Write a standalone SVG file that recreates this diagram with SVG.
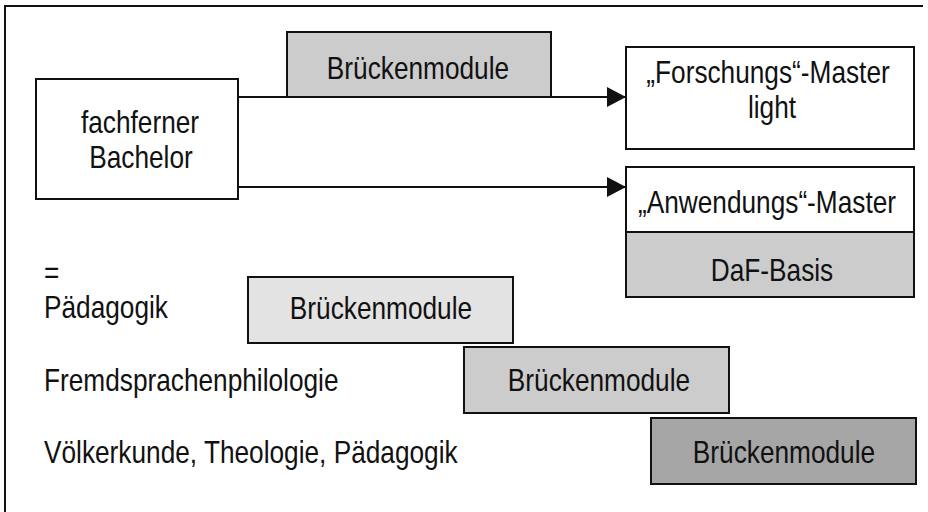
<svg xmlns="http://www.w3.org/2000/svg" width="928" height="512" viewBox="0 0 928 512">
  <style>
    .box { stroke: #111; stroke-width: 2; }
    .t { font-family: "Liberation Sans", Arial, sans-serif; font-size: 32px; fill: #111; }
    .c { text-anchor: middle; }
    .edge { stroke: #111; stroke-width: 2; fill: none; }
  </style>
  <defs>
    <marker id="arrow" markerUnits="userSpaceOnUse" markerWidth="20" markerHeight="22" refX="19" refY="10" orient="auto">
      <path d="M0,0 L19,10 L0,20 Z" fill="#111"/>
    </marker>
  </defs>

  <rect width="928" height="512" fill="#fff"/>

  <!-- outer frame (right and bottom edges fall outside the page) -->
  <path d="M5,512 V6 H923" fill="none" stroke="#111" stroke-width="2"/>

  <!-- connectors -->
  <g id="connectors">
    <line class="edge" x1="238" y1="97" x2="626" y2="97" marker-end="url(#arrow)"/>
    <line class="edge" x1="238" y1="187" x2="626" y2="187" marker-end="url(#arrow)"/>
  </g>

  <g id="bachelor">
    <rect class="box" x="36" y="79" width="202" height="120" fill="#fff"/>
    <text class="t c" transform="translate(140,133) scale(0.82,1)">fachferner</text>
    <text class="t c" transform="translate(141,168) scale(0.82,1)">Bachelor</text>
  </g>

  <g id="brueckenmodule-top">
    <rect class="box" x="287" y="32" width="264" height="65" fill="#ccc"/>
    <text class="t c" transform="translate(418,79) scale(0.82,1)">Brückenmodule</text>
  </g>

  <g id="forschungs-master">
    <rect class="box" x="626" y="47" width="288" height="102" fill="#fff"/>
    <text class="t c" transform="translate(768,83) scale(0.82,1)">„Forschungs“-Master</text>
    <text class="t c" transform="translate(772,118) scale(0.82,1)">light</text>
  </g>

  <g id="anwendungs-master">
    <rect class="box" x="626" y="167" width="288" height="65" fill="#fff"/>
    <text class="t c" transform="translate(767,213) scale(0.82,1)">„Anwendungs“-Master</text>
  </g>

  <g id="daf-basis">
    <rect class="box" x="626" y="232" width="288" height="65" fill="#ccc"/>
    <text class="t c" transform="translate(772,281) scale(0.82,1)">DaF-Basis</text>
  </g>

  <!-- subject lines on the left -->
  <g id="labels">
    <text class="t" transform="translate(44,283) scale(0.82,1)">=</text>
    <text class="t" transform="translate(44,318) scale(0.82,1)">Pädagogik</text>
    <text class="t" transform="translate(44,391) scale(0.82,1)">Fremdsprachenphilologie</text>
    <text class="t" transform="translate(44,463) scale(0.82,1)">Völkerkunde, Theologie, Pädagogik</text>
  </g>

  <g id="brueckenmodule-light">
    <rect class="box" x="248" y="277" width="265" height="66" fill="#e3e3e3"/>
    <text class="t c" transform="translate(381,319) scale(0.82,1)">Brückenmodule</text>
  </g>

  <g id="brueckenmodule-mid">
    <rect class="box" x="464" y="347" width="265" height="66" fill="#ccc"/>
    <text class="t c" transform="translate(599,391) scale(0.82,1)">Brückenmodule</text>
  </g>

  <g id="brueckenmodule-dark">
    <rect class="box" x="651" y="418" width="265" height="66" fill="#a6a6a6"/>
    <text class="t c" transform="translate(784,463) scale(0.82,1)">Brückenmodule</text>
  </g>
</svg>
